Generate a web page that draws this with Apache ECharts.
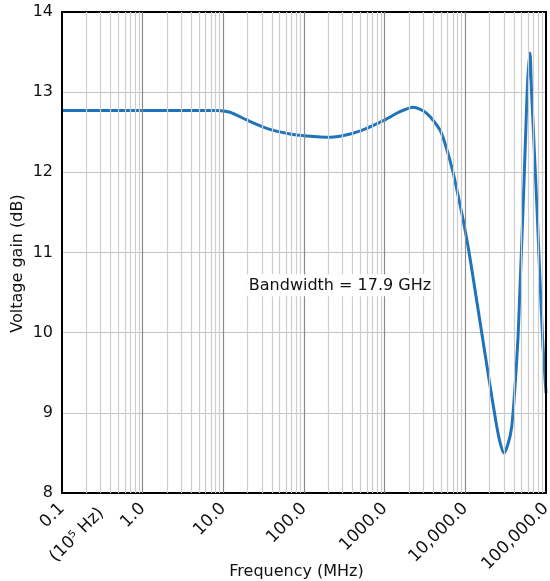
<!DOCTYPE html>
<html>
<head>
<meta charset="utf-8">
<style>
  html, body { margin: 0; padding: 0; background: #fff; }
  #chart { width: 550px; height: 581px; }
</style>
<script src="https://cdn.jsdelivr.net/npm/echarts@6/dist/echarts.min.js"></script>
</head>
<body>
<div id="chart"></div>
<script>
// Frequency response: voltage gain versus frequency
const freqMHz = [
  0.1, 1, 5, 8.3, 12.1, 19.5, 34.5, 67, 108, 210, 372, 598, 961, 1549, 2265,
  3319, 4853, 5922, 7031, 8110, 9354, 10790, 12450, 15630, 19640, 23990,
  26880, 30130, 33800, 37550, 41260, 44950, 47590, 50390, 53330, 57610,
  59790, 63300, 66070, 68970, 73010, 77310, 84220, 91760, 100000
];
const gainDb = [
  12.77, 12.77, 12.77, 12.77, 12.749, 12.653, 12.549, 12.478, 12.453, 12.437,
  12.478, 12.549, 12.644, 12.756, 12.811, 12.736, 12.528, 12.279, 12.004,
  11.717, 11.418, 11.081, 10.695, 10.058, 9.422, 8.886, 8.636, 8.499, 8.611,
  8.823, 9.322, 9.934, 10.557, 11.206, 11.867, 12.840, 13.214, 13.489, 13.027,
  12.628, 12.092, 11.555, 10.657, 9.834, 9.248
];

const xTickValues = [0.1, 1, 10, 100, 1000, 10000, 100000];
const xTickLabels = ['0.1', '1.0', '10.0', '100.0', '1000.0', '10,000.0', '100,000.0'];
const xFirstTickNote = '(10⁵ Hz)';
const yMin = 8, yMax = 14, yStep = 1;

const bandwidthText = 'Bandwidth = 17.9 GHz';
const bandwidthAt = [279, 10.59];

const FONT = 'DejaVu Sans';

// Log-paper grid: light lines at 2..9 of each decade, darker lines at decades
const minorLines = [];
for (let d = 0; d < xTickValues.length - 1; d++) {
  for (let k = 2; k <= 9; k++) {
    minorLines.push({ xAxis: xTickValues[d] * k, lineStyle: { color: '#cdcdcd', width: 1.2, type: 'solid' } });
  }
}
for (let d = 1; d < xTickValues.length - 1; d++) {
  minorLines.push({ xAxis: xTickValues[d], lineStyle: { color: '#8a8a8a', width: 1.2, type: 'solid' } });
}

function tickLabel(v) {
  for (let i = 0; i < xTickValues.length; i++) {
    if (Math.abs(Math.log10(v) - Math.log10(xTickValues[i])) < 1e-6) return xTickLabels[i];
  }
  return '';
}

const chart = echarts.init(document.getElementById('chart'), null, { renderer: 'canvas' });
chart.setOption({
  animation: false,
  backgroundColor: '#fff',
  grid: {
    left: 62, right: 4, top: 12, bottom: 88,
    containLabel: false, outerBoundsMode: 'none',
    show: true, borderColor: '#000', borderWidth: 2, backgroundColor: 'transparent', z: 5
  },
  xAxis: {
    type: 'log', logBase: 10, min: 0.1, max: 100000, splitNumber: 6,
    name: 'Frequency (MHz)', nameLocation: 'middle', nameGap: 71, nameMoveOverlap: false,
    nameTextStyle: { fontFamily: FONT, fontSize: 16, color: '#111', padding: [0, 15, 0, 0] },
    axisLine: { show: false },
    axisTick: { show: false },
    splitLine: { show: false },
    axisLabel: {
      rotate: 45, margin: 13, fontFamily: FONT, fontSize: 17, color: '#111',
      hideOverlap: false, formatter: tickLabel
    }
  },
  yAxis: {
    type: 'value', min: yMin, max: yMax, interval: yStep,
    name: 'Voltage gain (dB)', nameLocation: 'middle', nameGap: 36, nameMoveOverlap: false,
    nameTextStyle: { fontFamily: FONT, fontSize: 16, color: '#111', padding: [0, 22, 0, 0] },
    axisLine: { show: false },
    axisTick: { show: false },
    splitLine: { show: true, lineStyle: { color: '#c4c4c4', width: 1.2 } },
    axisLabel: { margin: 9, fontFamily: FONT, fontSize: 16, color: '#111' }
  },
  series: [
    {
      type: 'line',
      name: 'grid',
      data: [[0.1, yMin], [100000, yMin]],
      showSymbol: false,
      silent: true,
      lineStyle: { opacity: 0 },
      z: 1,
      markLine: {
        silent: true, symbol: 'none', animation: false,
        label: { show: false },
        data: minorLines
      },
      markPoint: {
        silent: true, symbol: 'rect', symbolSize: 0, animation: false,
        data: [{ coord: bandwidthAt, value: bandwidthText }],
        label: {
          show: true, position: 'inside', formatter: bandwidthText,
          fontFamily: FONT, fontSize: 16, color: '#111',
          backgroundColor: '#fff', padding: [3, 2, 3, 2]
        }
      }
    },
    {
      type: 'line',
      name: 'gain',
      data: freqMHz.map((f, i) => [f, gainDb[i]]),
      showSymbol: false,
      smooth: 0.25,
      lineStyle: { color: '#1f73ba', width: 3 },
      z: 3
    }
  ]
});

// Second line of the first tick label, set under "0.1" along the same slant
const p0 = chart.convertToPixel({ xAxisIndex: 0, yAxisIndex: 0 }, [xTickValues[0], yMin]);
chart.setOption({
  graphic: [{
    type: 'text',
    x: p0[0] + 15, y: p0[1] + 42,
    rotation: Math.PI / 4,
    style: {
      text: xFirstTickNote, fontFamily: FONT, fontSize: 17, fill: '#111',
      textAlign: 'center', textVerticalAlign: 'middle'
    }
  }]
});
</script>
</body>
</html>
